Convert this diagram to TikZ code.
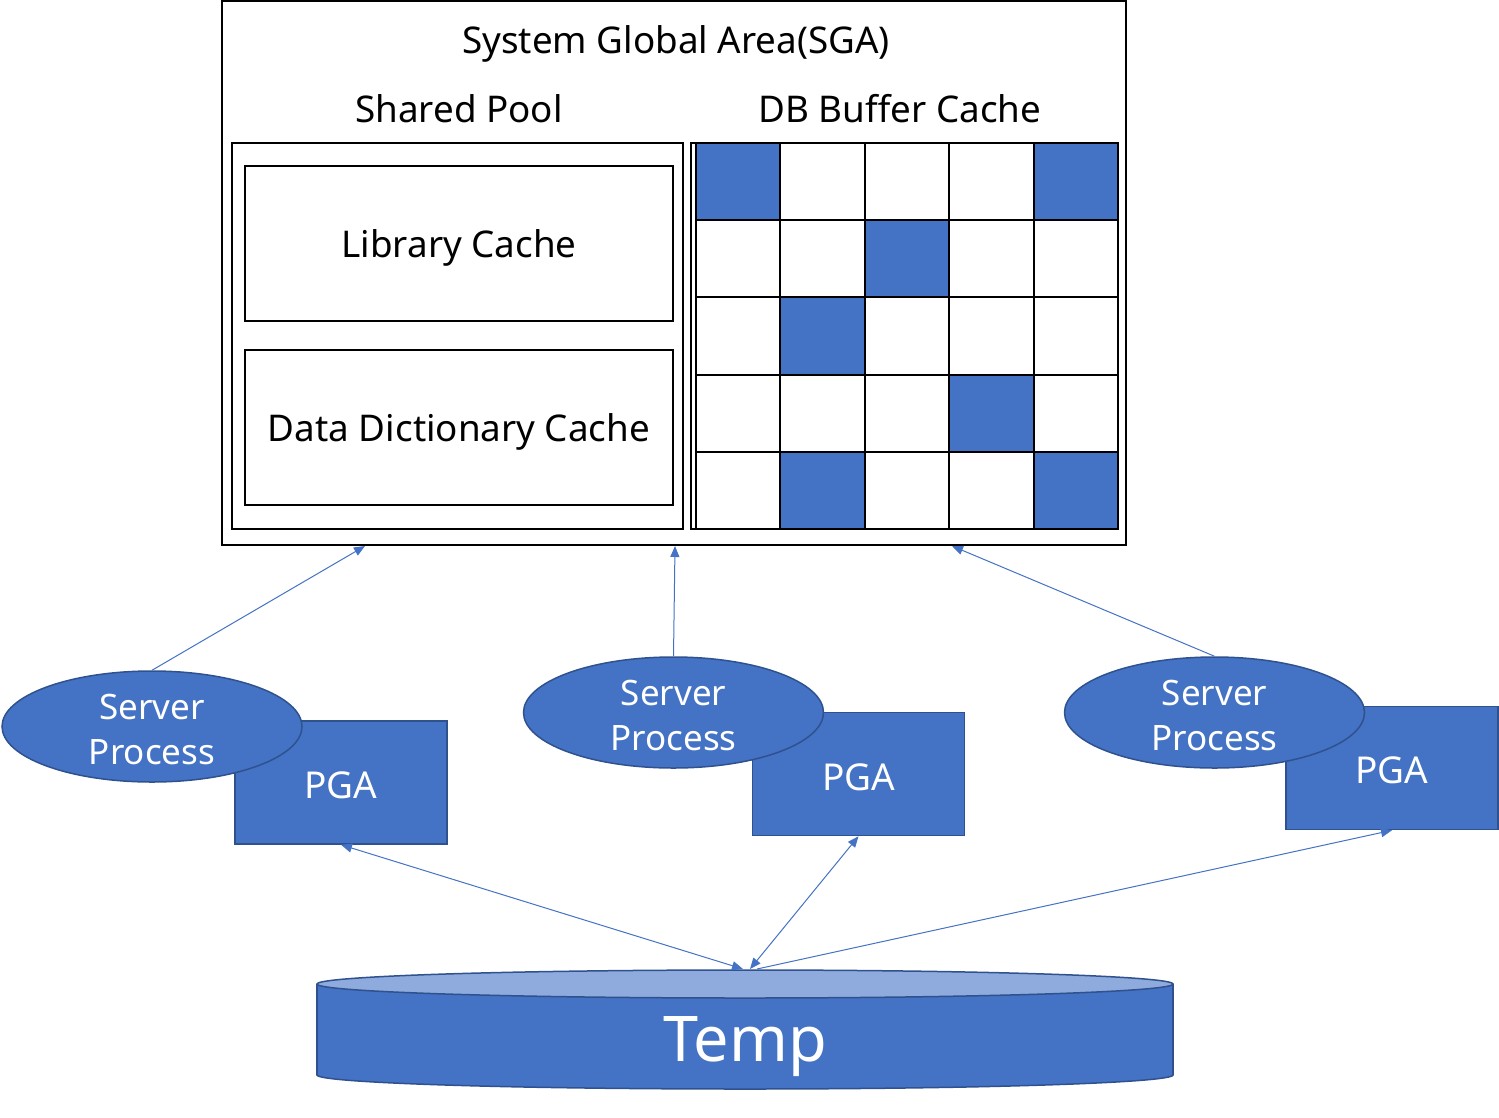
\documentclass[tikz,border=0pt]{standalone}
\usepackage{fontspec}
\setmainfont{Noto Sans}
\usetikzlibrary{arrows.meta,shapes.geometric}
\definecolor{obl}{HTML}{4472C4}
\definecolor{obd}{HTML}{2F528F}
\definecolor{oblt}{HTML}{8FAADC}
\begin{document}
\begin{tikzpicture}[x=1pt,y=-1pt,
  box/.style={draw=black,line width=2pt,inner sep=0pt,fill=white},
  lbl/.style={font=\fontsize{36.8}{44}\selectfont,inner sep=0pt,text=black},
  proc/.style={ellipse,fill=obl,draw=obd,line width=1.5pt,inner sep=0pt,minimum width=300pt,minimum height=111pt},
  proct/.style={text=white,align=center,inner sep=0pt,font=\fontsize{35}{45}\selectfont},
  pga/.style={rectangle,fill=obl,draw=obd,line width=1.5pt,inner sep=0pt,minimum width=212pt,minimum height=123pt},
  pgat/.style={text=white,inner sep=0pt,font=\fontsize{37}{44}\selectfont},
  arr/.style={draw=obl,line width=1pt,-{Triangle[width=9pt,length=11pt]}},
  arrb/.style={draw=obl,line width=1pt,{Triangle[width=9pt,length=11pt]}-{Triangle[width=9pt,length=11pt]}}]
\useasboundingbox (0,0) rectangle (1499,1117);

% SGA
\node[box,minimum width=904pt,minimum height=544pt] (sga) at (674,273) {};
\node[lbl] (sgat) at (676,44) {System Global Area(SGA)};
\node[lbl] (spt) at (459,109) {Shared Pool};
\node[lbl] (dbt) at (900,109) {DB Buffer Cache};

% Shared pool
\node[box,minimum width=451pt,minimum height=386pt] (sp) at (457.5,336) {};
\node[box,minimum width=428pt,minimum height=155pt] (lc) at (459,243.5) {};
\node[lbl] (lct) at (459,247.5) {Library Cache};
\node[box,minimum width=428pt,minimum height=155pt] (ddc) at (459,427.5) {};
\node[lbl] (ddct) at (459,431.5) {Data Dictionary Cache};

% DB buffer cache
\node[box,minimum width=427pt,minimum height=386pt] (dbc) at (904.5,336) {};
\def\cw{84.4}
\def\ch{77.2}
\foreach \c/\r in {0/0,4/0,2/1,1/2,3/3,1/4,4/4}{
  \fill[obl] ({696+\c*\cw},{143+\r*\ch}) rectangle ({696+(\c+1)*\cw},{143+(\r+1)*\ch});
}
\foreach \i in {0,...,5}{
  \draw[line width=2pt] ({696+\i*\cw},143) -- ({696+\i*\cw},529);
  \draw[line width=2pt] (696,{143+\i*\ch}) -- (1118,{143+\i*\ch});
}
\draw[line width=2pt] (691,143) rectangle (1118,529);

% PGA and server processes
\node[pga] (pga1) at (341,782.5) {};
\node[pga] (pga2) at (858.5,774) {};
\node[pga] (pga3) at (1392,768) {};
\node[pgat] (pga1t) at (341,785) {PGA};
\node[pgat] (pga2t) at (858.5,777) {PGA};
\node[pgat] (pga3t) at (1392,770) {PGA};
\node[proc] (sp1) at (152,726.5) {};
\node[proc] (sp2) at (673.5,712.5) {};
\node[proc] (sp3) at (1214.5,712.5) {};
\node[proct] (sp1t) at (152,729) {Server\\Process};
\node[proct] (sp2t) at (673.5,715) {Server\\Process};
\node[proct] (sp3t) at (1214.5,715) {Server\\Process};

% Temp cylinder
\node[ellipse,fill=obl,draw=obd,line width=1.5pt,minimum width=856pt,minimum height=28pt,inner sep=0pt] (tbot) at (745,1075) {};
\fill[obl] (317,984) rectangle (1173,1075);
\draw[obd,line width=1.5pt] (317,984) -- (317,1075) (1173,984) -- (1173,1075);
\node[ellipse,fill=oblt,draw=obd,line width=1.5pt,minimum width=856pt,minimum height=28pt,inner sep=0pt] (ttop) at (745,984) {};
\node[text=white,inner sep=0pt,font=\fontsize{63}{70}\selectfont] (temp) at (745,1047) {Temp};

% connector end points
\coordinate (a1) at (365,546);
\coordinate (a2) at (675,546);
\coordinate (a3) at (952,546);
\coordinate (t1) at (743,969);
\coordinate (t2) at (750,969);
\coordinate (t3) at (757,969);

\draw[arr] (sp1.north) -- (a1);
\draw[arr] (sp2.north) -- (a2);
\draw[arr] (sp3.north) -- (a3);
\draw[arrb] (pga1.south) -- (t1);
\draw[arrb] (pga2.south) -- (t2);
\draw[arr] (t3) -- (pga3.south);
\end{tikzpicture}
\end{document}
